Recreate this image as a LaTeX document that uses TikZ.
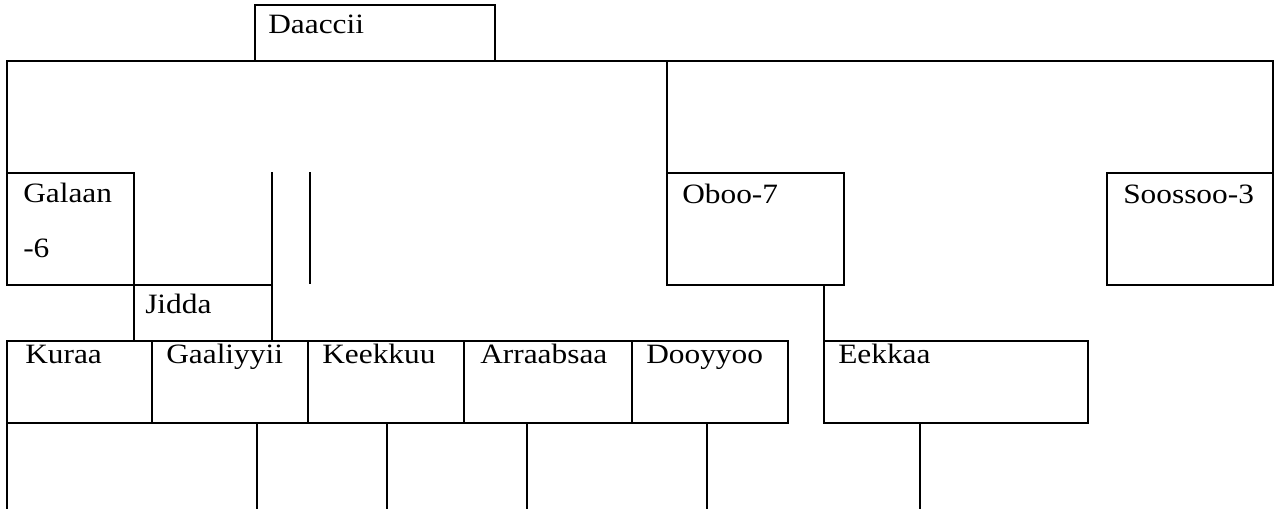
\documentclass[tikz,border=0pt]{standalone}
\usepackage{fontspec}
\setmainfont[FakeStretch=1.12]{Liberation Serif}
\begin{document}
\begin{tikzpicture}[x=0.75pt,y=-0.75pt,
  ln/.style={line width=1.5pt, line cap=rect},
  box/.style={draw, line width=1.5pt, rectangle, inner sep=0pt, outer sep=0pt, anchor=north west},
  lbl/.style={inner sep=0pt, anchor=base west, font=\fontsize{21}{41}\selectfont, align=left}]
\useasboundingbox (0,0) rectangle (1275,508);
\newcommand\mybox[8]{%
  \node[box, minimum width=#4*0.75pt, minimum height=#5*0.75pt] (#1) at (#2,#3) {};
  \node[lbl] (#1t) at ([xshift=#6*0.75pt, yshift=-#7*0.75pt]#1.north west) {#8};}
% boxes
\mybox{daaccii}{255}{5}{240}{56}{13}{28}{Daaccii}
\mybox{galaan}{7}{173}{127}{112}{16}{84}{Galaan\\-6}
\mybox{jidda}{134}{285}{138}{56}{11}{28}{Jidda}
\mybox{oboo}{667}{173}{177}{112}{15}{30}{Oboo-7}
\mybox{soossoo}{1107}{173}{166}{112}{16}{30}{Soossoo-3}
\mybox{kuraa}{7}{341}{145}{82}{18}{22}{Kuraa}
\mybox{gaaliyyii}{152}{341}{156}{82}{14}{22}{Gaaliyyii}
\mybox{keekkuu}{308}{341}{156}{82}{14}{22}{Keekkuu}
\mybox{arraabsaa}{464}{341}{168}{82}{16}{22}{Arraabsaa}
\mybox{dooyyoo}{632}{341}{156}{82}{14}{22}{Dooyyoo}
\mybox{eekkaa}{824}{341}{264}{82}{14}{22}{Eekkaa}
% coordinates for free ends
\coordinate (tr) at (1273,61);
\coordinate (va) at (272,173);
\coordinate (vb1) at (310,173);
\coordinate (vb2) at (310,283);
\coordinate (b1) at (7,508);
\coordinate (b2) at (257,508);
\coordinate (b3) at (387,508);
\coordinate (b4) at (527,508);
\coordinate (b5) at (707,508);
\coordinate (b6) at (920,508);
% connectors
\draw[ln] (galaan.north west) |- (tr) -- (soossoo.north east);
\draw[ln] (oboo.north west) -- (oboo.north west |- tr);
\draw[ln] (va) -- (jidda.north east);
\draw[ln] (vb1) -- (vb2);
\draw[ln] (eekkaa.north west) -- (eekkaa.north west |- oboo.south);
\draw[ln] (kuraa.south west) -- (b1);
\draw[ln] (b2 |- gaaliyyii.south) -- (b2);
\draw[ln] (b3 |- keekkuu.south) -- (b3);
\draw[ln] (b4 |- arraabsaa.south) -- (b4);
\draw[ln] (b5 |- dooyyoo.south) -- (b5);
\draw[ln] (b6 |- eekkaa.south) -- (b6);
\end{tikzpicture}
\end{document}
